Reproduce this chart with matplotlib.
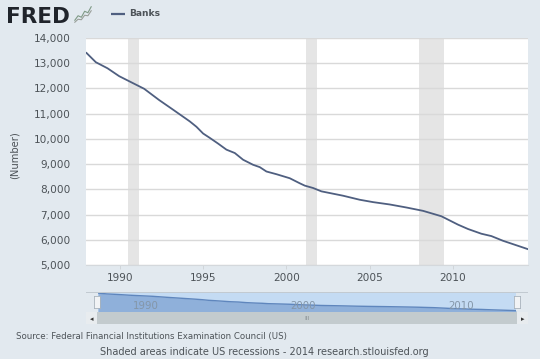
#!/usr/bin/env python3
"""FRED chart of the number of US banks, with the range navigator below it."""

import matplotlib

matplotlib.use("Agg")
import matplotlib.pyplot as plt
from matplotlib.patches import Rectangle

WIDTH, HEIGHT = 540, 359

YEARS = [1988.0, 1988.56, 1989.26, 1989.96, 1990.76, 1991.46, 1992.36, 1993.17, 1993.97,
         1994.2, 1994.6, 1995.0, 1995.4, 1995.9, 1996.4, 1996.9, 1997.4, 1998.0,
         1998.4, 1998.8, 1999.4, 2000.2, 2000.8, 2001.1, 2001.6, 2002.1, 2003.4,
         2004.4, 2005.2, 2006.2, 2007.2, 2008.2, 2009.3, 2010.3, 2010.9, 2011.7,
         2012.3, 2013.0, 2014.5]
BANKS = [13407, 13040, 12800, 12487, 12220, 11987, 11540, 11170, 10800,
         10693, 10480, 10213, 10040, 9813, 9573, 9440, 9173, 8973,
         8880, 8707, 8600, 8440, 8240, 8147, 8053, 7920, 7747,
         7587, 7493, 7400, 7280, 7147, 6933, 6600, 6427, 6240,
         6147, 5960, 5627]
RECESSIONS = [(1990.5, 1991.15), (2001.2, 2001.85), (2007.95, 2009.45)]
Y_TICKS = [5000, 6000, 7000, 8000, 9000, 10000, 11000, 12000, 13000, 14000]
X_TICKS = [1990, 1995, 2000, 2005, 2010]
NAV_TICKS = [1990, 2000, 2010]
LOGO_X = [0, 1, 2, 3, 4, 5]
LOGO_Y = [0.5, 1.4, 1.1, 2.3, 2.0, 3.2]
LOGO_Y2 = [0.1, 0.7, 0.6, 1.5, 1.4, 2.4]

BG = "#e2e9ef"
LINE = "#4f5f80"
TEXT = "#4d5358"


def px_axes(fig, left, top, right, bottom, **kwargs):
    return fig.add_axes(
        [left / WIDTH, 1 - bottom / HEIGHT, (right - left) / WIDTH, (bottom - top) / HEIGHT],
        **kwargs,
    )


def px_text(fig, x, y, text, **kwargs):
    return fig.text(x / WIDTH, 1 - y / HEIGHT, text, **kwargs)


fig = plt.figure(figsize=(WIDTH / 100, HEIGHT / 100), dpi=100, facecolor=BG)

# main plot
ax = px_axes(fig, 86, 38, 528, 265, facecolor="white")
for start, end in RECESSIONS:
    ax.axvspan(start, end, color="#e5e5e5", lw=0, zorder=1)
ax.plot(YEARS, BANKS, color=LINE, lw=1.3, zorder=3)
ax.set_xlim(1987.97, 2014.5)
ax.set_ylim(5000, 14000)
ax.set_yticks(Y_TICKS)
ax.set_yticklabels([f"{v:,}" for v in Y_TICKS])
ax.set_xticks(X_TICKS)
ax.grid(axis="y", color="#d9d9d9", lw=1, zorder=2)
ax.tick_params(axis="y", length=0, pad=11, labelsize=7.6, labelcolor=TEXT)
ax.tick_params(axis="x", length=3, width=0.7, color="#d0d5d9", pad=3, labelsize=7.6, labelcolor=TEXT)
for side in ("top", "right", "left"):
    ax.spines[side].set_visible(False)
ax.spines["bottom"].set_color("#d4d8dc")
px_text(fig, 15, 155, "(Number)", rotation=90, ha="center", va="center", fontsize=7.2, color=TEXT)

# header
px_text(fig, 6.5, 23, "FRED", fontsize=15.5, fontweight="bold", color="#20242b", va="baseline")
logo = px_axes(fig, 74, 6, 92, 23)
logo.plot(LOGO_X, LOGO_Y, color="#7f9a86", lw=0.8)
logo.plot(LOGO_X, LOGO_Y2, color="#9a9f9a", lw=0.8)
logo.axis("off")
legend_ax = px_axes(fig, 111, 12, 125, 16)
legend_ax.plot([0, 1], [0.5, 0.5], color=LINE, lw=1.6)
legend_ax.set_xlim(0, 1)
legend_ax.axis("off")
px_text(fig, 129, 13.5, "Banks", fontsize=6.6, fontweight="bold", color=TEXT, va="center")

# navigator
nav = px_axes(fig, 98, 292, 516, 312, facecolor="#c4dbf3")
nav.fill_between(YEARS, BANKS, 5000, color="#8fb0da", lw=0)
nav.plot(YEARS, BANKS, color="#5f86bd", lw=1)
nav.set_xlim(1988, 2014.5)
nav.set_ylim(5000, 13900)
nav.set_xticks([])
nav.set_yticks([])
for spine in nav.spines.values():
    spine.set_visible(False)
for year in NAV_TICKS:
    nav.annotate(str(year), (year, 5000), xytext=(2.5, 1), textcoords="offset points",
                 fontsize=7.4, color="#8496a8", va="bottom")
fig.add_artist(Rectangle((86 / WIDTH, 1 - 292.5 / HEIGHT), 442 / WIDTH, 1 / HEIGHT,
                         transform=fig.transFigure, color="#c2cad1", lw=0))

# scrollbar
bar = px_axes(fig, 86, 312, 528, 324, facecolor="#c3cbce")
bar.set_xlim(86, 528)
bar.set_ylim(0, 1)
bar.set_xticks([])
bar.set_yticks([])
for spine in bar.spines.values():
    spine.set_visible(False)
bar.add_patch(Rectangle((86, 0), 11, 1, color="#e8ecef", lw=0))
bar.add_patch(Rectangle((517, 0), 11, 1, color="#e8ecef", lw=0))
bar.text(91.5, 0.45, "◂", fontsize=5, ha="center", va="center", color="#333333")
bar.text(522.5, 0.45, "▸", fontsize=5, ha="center", va="center", color="#333333")
bar.text(307, 0.45, "III", fontsize=4.5, ha="center", va="center", color="#8a9296")

# range handles
for x_pos in (97, 516.5):
    handle = px_axes(fig, x_pos - 3, 296, x_pos + 3, 308, facecolor="#f1f3f5")
    handle.set_xticks([])
    handle.set_yticks([])
    for spine in handle.spines.values():
        spine.set_color("#a9b3bc")
        spine.set_linewidth(0.6)

# footer
px_text(fig, 16, 337, "Source: Federal Financial Institutions Examination Council (US)",
        fontsize=6.2, color=TEXT, va="center")
px_text(fig, 100, 352, "Shaded areas indicate US recessions - 2014 research.stlouisfed.org",
        fontsize=7, color=TEXT, va="center")

fig.savefig("out.png", dpi=100, facecolor=BG)
plt.close(fig)
